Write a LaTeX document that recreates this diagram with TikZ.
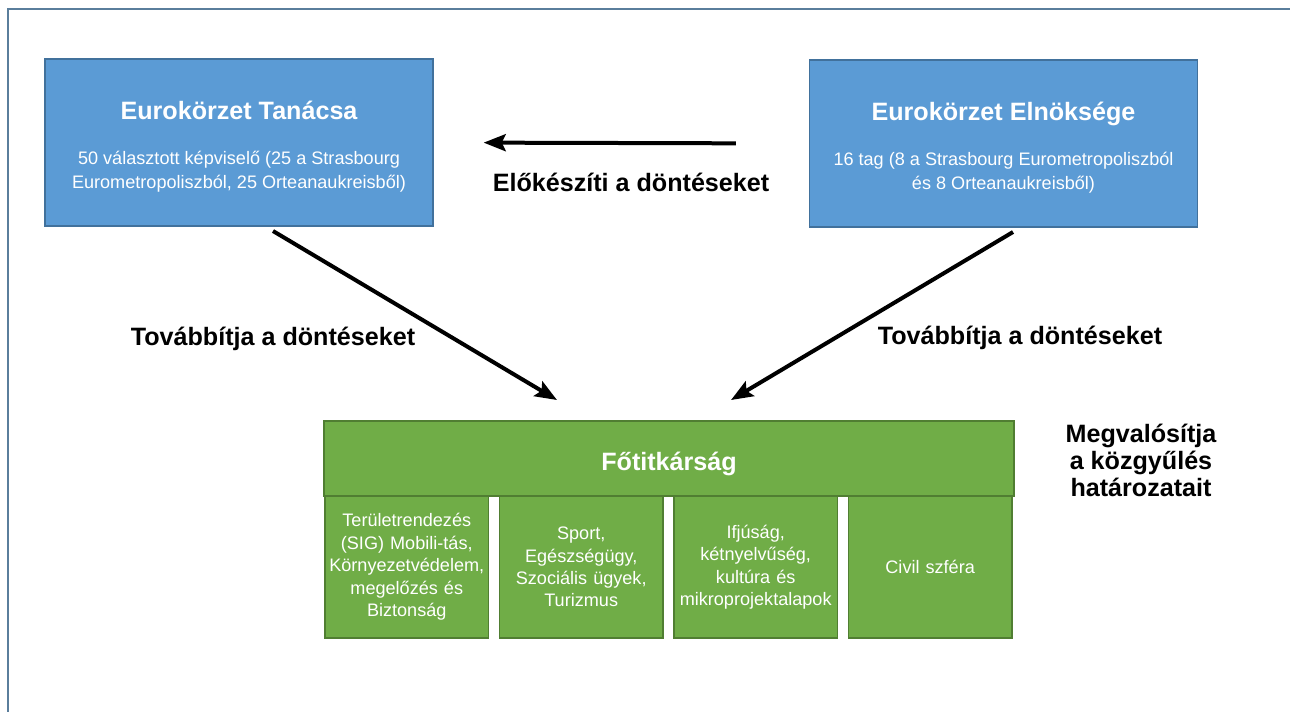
\documentclass[tikz,border=0pt]{standalone}
\usepackage{fontspec}
\setmainfont{Liberation Sans}
\usepackage{xcolor}
\usepackage{tikz}
\usetikzlibrary{arrows.meta}
\usetikzlibrary{positioning}
\definecolor{boxblue}{HTML}{5B9BD5}
\definecolor{boxblueline}{HTML}{41719C}
\definecolor{boxgreen}{HTML}{70AD47}
\definecolor{boxgreenline}{HTML}{507E32}
\definecolor{framecol}{HTML}{5A7E9C}

\begin{document}
\begin{tikzpicture}[x=0.02cm,y=-0.02cm,-,node distance=0.19cm,semithick]
	\tikzstyle{council}=[draw=boxblueline, fill=boxblue, text=white, line width=0.03cm, minimum width=7.76cm, minimum height=3.34cm, inner sep=0pt, align=center, font=\fontsize{10.3}{13.7}\selectfont]
	\tikzstyle{office}=[draw=boxgreenline, fill=boxgreen, text=white, line width=0.03cm, inner sep=0pt]
	\tikzstyle{unitbox}=[office, minimum width=3.27cm, minimum height=2.84cm, text width=3.25cm, align=center, font=\fontsize{10.3}{12.8}\selectfont]
	\tikzstyle{decision}=[-{Stealth[length=0.44cm,width=0.34cm,inset=0.08cm]}, line width=0.08cm, black]
	\tikzstyle{note}=[font=\fontsize{14.3}{15.4}\selectfont\bfseries, align=center]

	\useasboundingbox (0,0) rectangle (1290,711);
	\draw[framecol, line width=0.04cm] (8,730) -- (8,9) -- (1300,9);

	% the two bodies on top
	\node[council] (tanacs) at (239,142.5) {{\fontsize{14.3}{16}\selectfont\bfseries\rule{0pt}{0.55cm}Eurokörzet Tanácsa}\\[12pt]50 választott képviselő (25 a Strasbourg\\Eurometropoliszból, 25 Orteanaukreisből)};
	\node[council] (elnok) at (1003.5,143.5) {{\fontsize{14.3}{16}\selectfont\bfseries\rule{0pt}{0.55cm}Eurokörzet Elnöksége}\\[12pt]16 tag (8 a Strasbourg Eurometropoliszból\\és 8 Orteanaukreisből)};

	% secretariat
	\node[office, minimum width=13.8cm, minimum height=1.5cm, font=\fontsize{14.3}{16}\selectfont\bfseries] (fotitk) at (669,458.5) {\rule{0pt}{0.58cm}Főtitkárság};
	\node[unitbox] (u1) at (406.75,567) {Területrendezés\\(SIG) Mobili-tás,\\Környezetvédelem,\\megelőzés és\\Biztonság};
	\node[unitbox, right=of u1] (u2) {Sport,\\Egészségügy,\\Szociális ügyek,\\Turizmus};
	\node[unitbox, right=of u2] (u3) {Ifjúság,\\kétnyelvűség,\\kultúra és\\mikroprojektalapok};
	\node[unitbox, right=of u3] (u4) {Civil szféra};

	\coordinate (l1) at (273,231);
	\coordinate (l2) at (557,400);
	\coordinate (r1) at (1013,232);
	\coordinate (r2) at (731,400);

	\draw[decision, shorten <=1.46cm, shorten >=1cm] (elnok.west) -- (tanacs.east);
	\draw[decision] (l1) -- (l2);
	\draw[decision] (r1) -- (r2);

	\node[note] (prep) at (631,182) {Előkészíti a döntéseket};
	\node[note] (fwdl) at (273,339) {Továbbítja a döntéseket};
	\node[note] (fwdr) at (1020,338) {Továbbítja a döntéseket};
	\node[note] (impl) at (1141,460) {Megvalósítja\\a közgyűlés\\határozatait};
\end{tikzpicture}
\end{document}
